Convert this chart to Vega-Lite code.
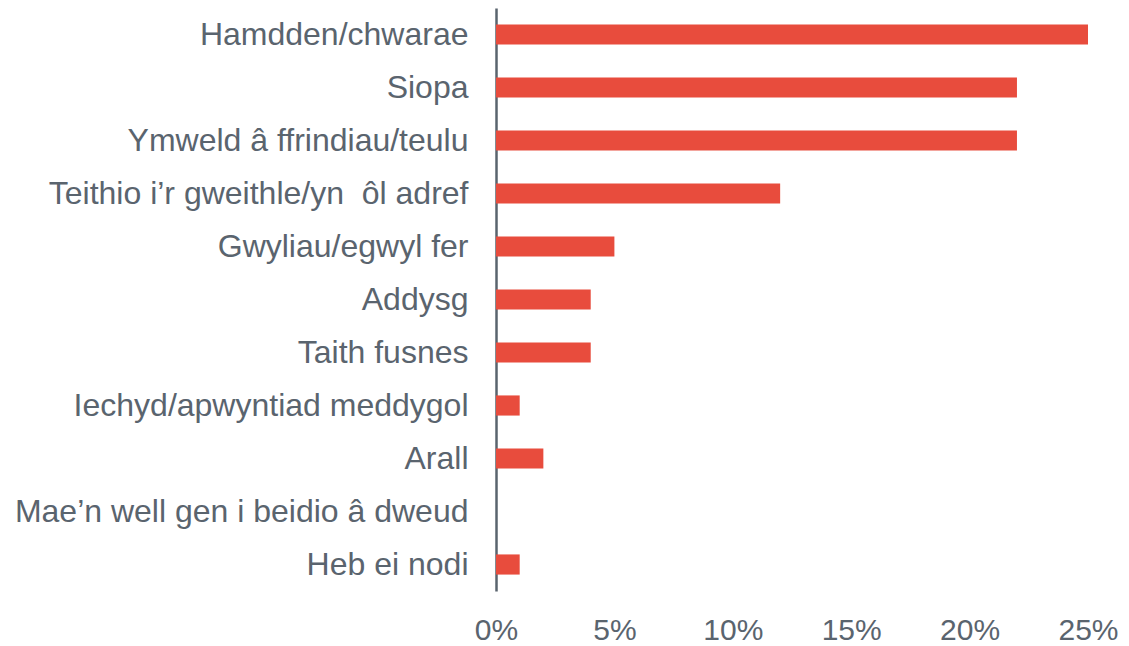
{
  "$schema": "https://vega.github.io/schema/vega-lite/v6.json",
  "autosize": "none",
  "width": 592,
  "height": 583,
  "padding": {"left": 496, "top": 8, "right": 41, "bottom": 55},
  "background": "white",
  "config": {"view": {"stroke": null}, "font": "Liberation Sans"},
  "data": {"values": [
    {"category": "Hamdden/chwarae", "value": 0.25},
    {"category": "Siopa", "value": 0.22},
    {"category": "Ymweld â ffrindiau/teulu", "value": 0.22},
    {"category": "Teithio i’r gweithle/yn \u00a0ôl adref", "value": 0.12},
    {"category": "Gwyliau/egwyl fer", "value": 0.05},
    {"category": "Addysg", "value": 0.04},
    {"category": "Taith fusnes", "value": 0.04},
    {"category": "Iechyd/apwyntiad meddygol", "value": 0.01},
    {"category": "Arall", "value": 0.02},
    {"category": "Mae’n well gen i beidio â dweud", "value": 0},
    {"category": "Heb ei nodi", "value": 0.01}
  ]},
  "mark": {"type": "bar", "color": "#E84C3D"},
  "encoding": {
    "y": {
      "field": "category", "type": "nominal", "sort": null,
      "scale": {"paddingInner": 0.62, "paddingOuter": 0.31},
      "axis": {"title": null, "ticks": false, "domainColor": "#5A646E", "domainWidth": 2.5,
               "labelFontSize": 32, "labelColor": "#5A646E", "labelPadding": 28, "labelLimit": 600}
    },
    "x": {
      "field": "value", "type": "quantitative",
      "scale": {"domain": [0, 0.25], "nice": false},
      "axis": {"title": null, "format": ".0%", "values": [0, 0.05, 0.1, 0.15, 0.2, 0.25],
               "grid": false, "domain": false, "ticks": false,
               "labelFontSize": 30, "labelColor": "#5A646E", "labelPadding": 24, "labelFlush": false}
    }
  }
}
